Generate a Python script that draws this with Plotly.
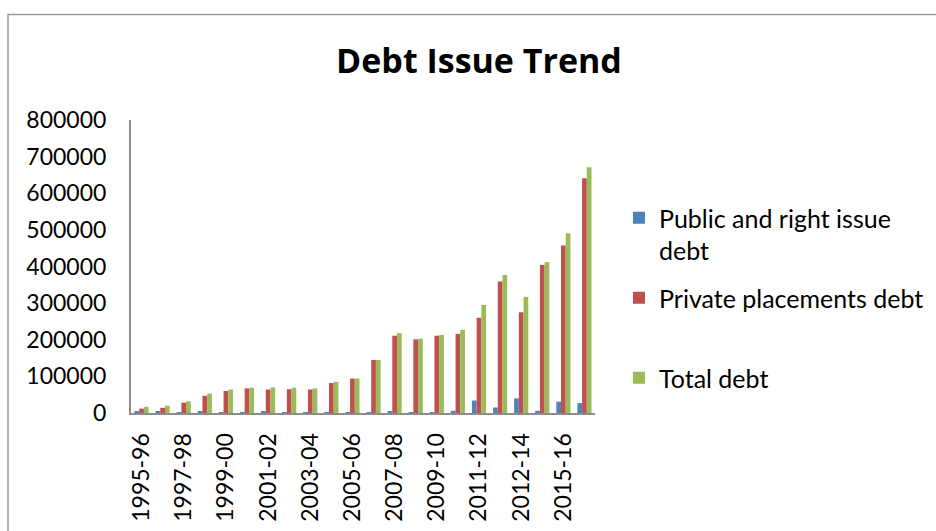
import plotly.graph_objects as go

categories = ["1995-96", "1996-97", "1997-98", "1998-99", "1999-00", "2000-01",
              "2001-02", "2002-03", "2003-04", "2004-05", "2005-06", "2006-07",
              "2007-08", "2008-09", "2009-10", "2010-11", "2011-12", "2012-13",
              "2012-14", "2014-15", "2015-16", "2016-17"]
public_debt = [4000, 4000, 500, 4000, 1000, 500, 4000, 500, 1000, 1000, 500, 500,
               5000, 500, 500, 6000, 34000, 15000, 40000, 6000, 31000, 27000]
private_debt = [12000, 14000, 28000, 47000, 60000, 67000, 64000, 65000, 64000, 82000, 94000, 145000,
                211000, 201000, 211000, 216000, 260000, 359000, 275000, 404000, 457000, 641000]
total_debt = [17000, 20000, 32000, 53000, 64000, 69000, 70000, 69000, 67000, 85000, 94000, 145000,
              218000, 203000, 213000, 227000, 295000, 377000, 317000, 412000, 491000, 671000]
series_names = ["Public and right issue<br>debt", "Private placements debt", "Total debt"]
y_ticks = [0, 100000, 200000, 300000, 400000, 500000, 600000, 700000, 800000]

FONT = "Lato"
colors = ["#4F81BD", "#C0504D", "#9BBB59"]

fig = go.Figure()
for i, (name, vals) in enumerate(zip(series_names, [public_debt, private_debt, total_debt])):
    fig.add_trace(go.Bar(x=categories, y=vals, name=name, marker_color=colors[i],
                         marker_line_width=0, showlegend=True,
                         legend="legend" if i == 0 else f"legend{i+1}"))

W, H = 936, 531
L, R, T, B = 131, 341, 120, 118
pw, ph = W - L - R, H - T - B

def px_x(px):
    return (px - L) / pw

def px_y(py):
    return (H - B - py) / ph

leg_common = dict(xanchor="left", yanchor="middle", bgcolor="rgba(0,0,0,0)",
                  font=dict(family=FONT, size=25, color="#000"), valign="top",
                  itemclick=False, itemdoubleclick=False, visible=True)

fig.update_layout(
    width=W, height=H,
    margin=dict(l=L, r=R, t=T, b=B, autoexpand=False),
    paper_bgcolor="white", plot_bgcolor="white",
    showlegend=True,
    barmode="group", bargap=0.33, bargroupgap=0,
    title=dict(text="<b>Debt Issue Trend</b>", x=479 / W, xref="container", xanchor="center",
               y=1 - 61 / H, yref="container", yanchor="middle",
               font=dict(family="Open Sans", size=34, color="#000")),
    font=dict(family=FONT, size=23, color="#000"),
    legend=dict(x=px_x(619), y=px_y(234), **leg_common),
    legend2=dict(x=px_x(619), y=px_y(298), **leg_common),
    legend3=dict(x=px_x(619), y=px_y(378), **leg_common),
    xaxis=dict(type="category", tickmode="array", tickvals=categories[::2],
               ticktext=categories[::2], tickangle=-90, showgrid=False, automargin=False,
               showline=True, linecolor="#8c8c8c", linewidth=2, ticks="",
               ticklabelstandoff=9, tickfont=dict(family=FONT, size=23, color="#000")),
    yaxis=dict(range=[0, 800000], tickmode="array", tickvals=y_ticks, automargin=False,
               ticktext=[str(v) for v in y_ticks], showgrid=False, zeroline=False,
               showline=True, linecolor="#8c8c8c", linewidth=2, ticks="",
               ticklabelstandoff=18, tickfont=dict(family=FONT, size=23, color="#000")),
    shapes=[dict(type="rect", xref="paper", yref="paper",
                 x0=px_x(8), x1=px_x(1200), y0=px_y(800), y1=px_y(14.5),
                 line=dict(color="#9a9a9a", width=1.5), fillcolor="rgba(0,0,0,0)", layer="below")],
)

fig.write_html("out.html")
